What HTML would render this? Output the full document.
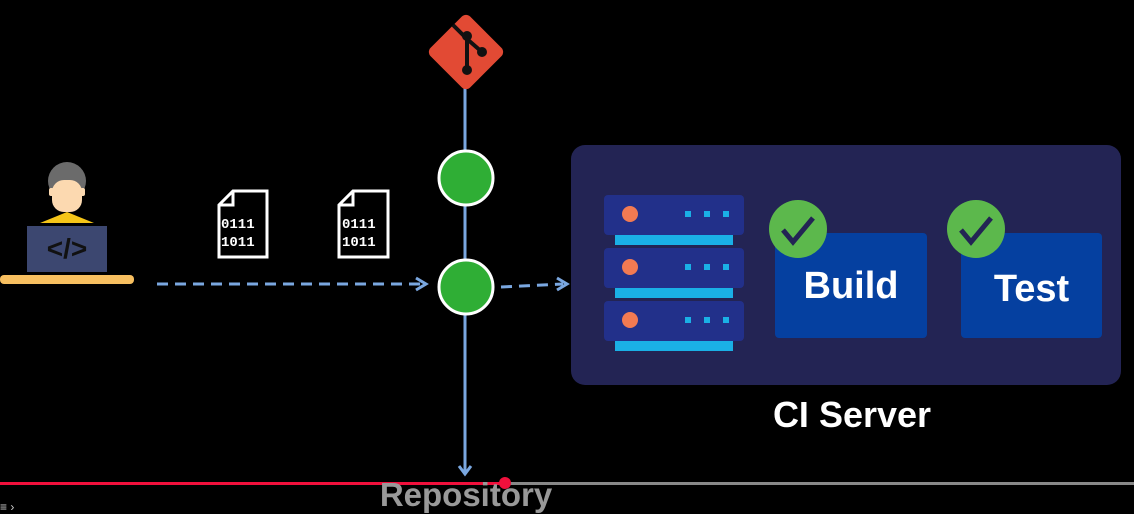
<!DOCTYPE html>
<html><head><style>
body{margin:0;width:1134px;height:514px;background:#000;overflow:hidden;position:relative;font-family:"Liberation Sans",sans-serif}
.a{position:absolute}
.txt{font-weight:bold;color:#fff}
</style></head><body>
<svg class="a" style="left:0;top:0" width="1134" height="514">
<path d="M40 223 L67 212 L94 223 Z" fill="#f5c518"/>
<circle cx="67" cy="181" r="19" fill="#6b6b6b"/>
<rect x="52" y="180" width="30" height="32" rx="12" fill="#fcd9b0"/>
<rect x="49" y="188" width="5" height="8" rx="2" fill="#fcd9b0"/>
<rect x="80" y="188" width="5" height="8" rx="2" fill="#fcd9b0"/>
<rect x="27" y="226" width="80" height="46" fill="#3c4770"/>
<text x="67" y="258" font-size="28" fill="#111" text-anchor="middle" font-family="Liberation Sans" font-weight="bold">&lt;/&gt;</text>
<rect x="0" y="275" width="134" height="9" rx="4" fill="#f7bf60"/>
<g fill="none" stroke="#fff" stroke-width="3">
<path d="M233 191 H267 V257 H219 V205 Z M219 205 H233 V191"/>
<path d="M353 191 H388 V257 H339 V205 Z M339 205 H353 V191"/>
</g>
<g fill="#fff" font-family="Liberation Mono" font-weight="bold" font-size="14">
<text x="221" y="228">0111</text><text x="221" y="246">1011</text>
<text x="342" y="228">0111</text><text x="342" y="246">1011</text>
</g>
<line x1="157" y1="284" x2="422" y2="284" stroke="#7aa7e0" stroke-width="3" stroke-dasharray="11 7"/>
<path d="M416 278 L426 284 L416 290" stroke="#7aa7e0" stroke-width="3" fill="none"/>
<line x1="501" y1="287" x2="563" y2="284" stroke="#7aa7e0" stroke-width="3" stroke-dasharray="11 7"/>
<path d="M557 278 L567 284 L557 290" stroke="#7aa7e0" stroke-width="3" fill="none"/>
<line x1="465" y1="85" x2="465" y2="472" stroke="#7aa7e0" stroke-width="3"/>
<path d="M459 466 L465 474 L471 466" stroke="#7aa7e0" stroke-width="3" fill="none"/>
<rect x="438" y="24" width="56" height="56" rx="6" fill="#e24a34" transform="rotate(45 466 52)"/>
<path d="M453 25 L467 39 L467 70 M467 39 L482 52" stroke="#111" stroke-width="4" fill="none"/>
<circle cx="467" cy="36" r="5" fill="#111"/><circle cx="482" cy="52" r="5" fill="#111"/><circle cx="467" cy="70" r="5" fill="#111"/>
<circle cx="466" cy="178" r="27" fill="#2fae35" stroke="#fff" stroke-width="3"/>
<circle cx="466" cy="287" r="27" fill="#2fae35" stroke="#fff" stroke-width="3"/>
<rect x="571" y="145" width="550" height="240" rx="14" fill="#232454"/>
<g id="s">
<rect x="604" y="195" width="140" height="40" rx="4" fill="#22308a"/>
<rect x="615" y="235" width="118" height="10" fill="#1ab0e6"/>
<circle cx="630" cy="214" r="8" fill="#f27a52"/>
<rect x="685" y="211" width="6" height="6" fill="#1ab0e6"/><rect x="704" y="211" width="6" height="6" fill="#1ab0e6"/><rect x="723" y="211" width="6" height="6" fill="#1ab0e6"/>
</g>
<use href="#s" y="53"/><use href="#s" y="106"/>
<rect x="775" y="233" width="152" height="105" rx="4" fill="#0540a0"/>
<rect x="961" y="233" width="141" height="105" rx="4" fill="#0540a0"/>
<circle cx="798" cy="229" r="29" fill="#5cb84c"/>
<circle cx="976" cy="229" r="29" fill="#5cb84c"/>
<path d="M783 230 L793 242 L813 218" stroke="#232454" stroke-width="5" fill="none"/>
<path d="M961 230 L971 242 L991 218" stroke="#232454" stroke-width="5" fill="none"/>
<rect x="0" y="482" width="505" height="3" fill="#f0103c"/>
<rect x="505" y="482" width="629" height="3" fill="#888"/>
<circle cx="505" cy="483" r="6" fill="#f0103c"/>
</svg>
<div class="a txt" style="left:775px;top:265px;width:152px;text-align:center;font-size:38px">Build</div>
<div class="a txt" style="left:961px;top:268px;width:141px;text-align:center;font-size:38px">Test</div>
<div class="a txt" style="left:752px;top:394px;width:200px;text-align:center;font-size:36px">CI Server</div>
<div class="a txt" style="left:366px;top:476px;width:200px;text-align:center;font-size:33px;color:#999">Repository</div>
<div class="a" style="left:0;top:500px;color:#ccc;font-size:12px">≡ ›</div>
</body></html>
